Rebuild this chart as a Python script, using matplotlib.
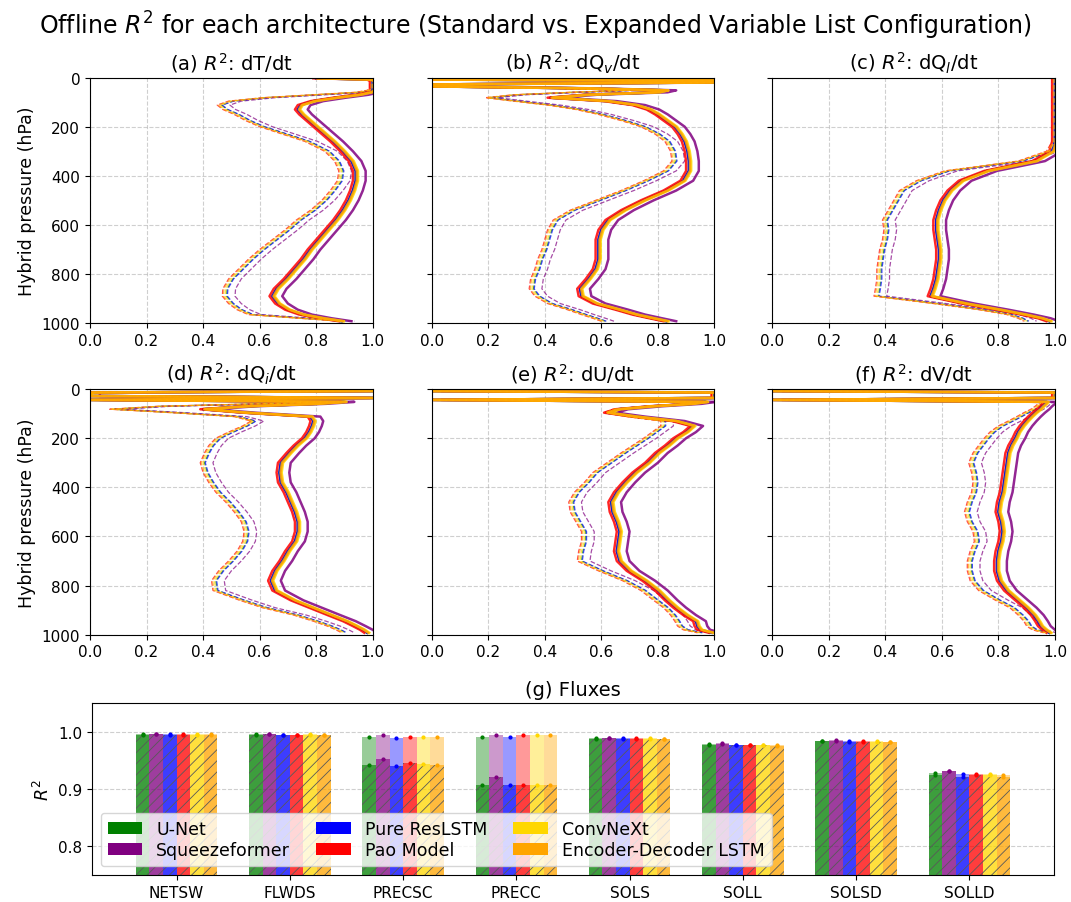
import numpy as np
import matplotlib.pyplot as plt
from matplotlib.patches import Patch

plt.rcParams['hatch.linewidth'] = 0.6
plt.rcParams['hatch.color'] = '0.35'

models = ['U-Net', 'Squeezeformer', 'Pure ResLSTM', 'Pao Model', 'ConvNeXt', 'Encoder-Decoder LSTM']
colors = ['green', 'purple', 'blue', 'red', 'gold', 'orange']

# hybrid pressure levels (hPa)
lev = [3, 8, 14, 20, 28, 36, 44, 52, 60, 70, 82, 96, 112, 130, 150, 175, 200, 230, 260, 300,
       340, 380, 420, 460, 500, 540, 580, 620, 660, 700, 740, 780, 820, 860, 890, 920, 945, 965, 980, 992]

# reference R2 profiles, expanded (solid) and standard (dashed)
dT_exp = [0.80, 0.99, 1.00, 1.00, 1.00, 1.00, 1.00, 1.00, 0.99, 0.95,
          0.87, 0.79, 0.745, 0.735, 0.75, 0.775, 0.80, 0.83, 0.86, 0.895,
          0.925, 0.94, 0.94, 0.93, 0.915, 0.895, 0.87, 0.84, 0.81, 0.78,
          0.755, 0.725, 0.695, 0.66, 0.645, 0.665, 0.70, 0.75, 0.82, 0.89]
dT_std = [0.80, 0.99, 1.00, 1.00, 1.00, 1.00, 1.00, 0.99, 0.95, 0.80,
          0.62, 0.50, 0.46, 0.48, 0.52, 0.56, 0.61, 0.69, 0.77, 0.84,
          0.875, 0.89, 0.885, 0.86, 0.83, 0.79, 0.74, 0.70, 0.655, 0.61,
          0.57, 0.535, 0.50, 0.48, 0.478, 0.50, 0.53, 0.57, 0.75, 0.90]
dQv_exp = [1.0, 0.0, 1.0, 1.0, 0.0, 0.0, 0.55, 0.83, 0.80, 0.55,
           0.42, 0.62, 0.72, 0.77, 0.80, 0.83, 0.86, 0.88, 0.895, 0.905,
           0.91, 0.91, 0.89, 0.83, 0.75, 0.68, 0.625, 0.60, 0.59, 0.59,
           0.59, 0.58, 0.555, 0.525, 0.53, 0.58, 0.66, 0.72, 0.78, 0.83]
dQv_std = [1.0, 0.0, 1.0, 1.0, 0.0, 0.0, 0.45, 0.70, 0.50, 0.30,
           0.20, 0.30, 0.42, 0.52, 0.60, 0.68, 0.75, 0.80, 0.835, 0.855,
           0.86, 0.83, 0.76, 0.68, 0.59, 0.50, 0.44, 0.42, 0.41, 0.40,
           0.385, 0.375, 0.36, 0.355, 0.375, 0.42, 0.49, 0.54, 0.58, 0.61]
dQl_exp = [1.0, 1.0, 1.0, 1.0, 1.0, 1.0, 1.0, 1.0, 1.0, 1.0,
           1.0, 1.0, 1.0, 1.0, 1.0, 1.0, 1.0, 1.0, 1.0, 0.99,
           0.93, 0.76, 0.67, 0.63, 0.605, 0.59, 0.58, 0.58, 0.585, 0.59,
           0.59, 0.585, 0.58, 0.57, 0.56, 0.68, 0.80, 0.89, 0.95, 0.98]
dQl_std = [1.0, 1.0, 1.0, 1.0, 1.0, 1.0, 1.0, 1.0, 1.0, 1.0,
           1.0, 1.0, 1.0, 1.0, 1.0, 1.0, 1.0, 1.0, 1.0, 0.98,
           0.88, 0.62, 0.52, 0.46, 0.44, 0.42, 0.40, 0.405, 0.40, 0.39,
           0.385, 0.38, 0.38, 0.375, 0.37, 0.58, 0.74, 0.84, 0.88, 0.90]
dQi_exp = [1.0, 1.0, 0.0, 0.0, 0.0, 1.0, 0.0, 0.90, 0.80, 0.55,
           0.40, 0.55, 0.78, 0.79, 0.785, 0.775, 0.76, 0.73, 0.705, 0.675,
           0.67, 0.675, 0.695, 0.71, 0.725, 0.735, 0.735, 0.725, 0.70, 0.68,
           0.655, 0.64, 0.655, 0.72, 0.785, 0.85, 0.905, 0.94, 0.965, 0.98]
dQi_std = [1.0, 1.0, 0.0, 0.0, 0.0, 1.0, 0.0, 0.88, 0.60, 0.25,
           0.08, 0.30, 0.52, 0.58, 0.55, 0.50, 0.455, 0.43, 0.415, 0.40,
           0.41, 0.43, 0.455, 0.49, 0.52, 0.545, 0.555, 0.55, 0.53, 0.50,
           0.465, 0.44, 0.445, 0.54, 0.62, 0.73, 0.80, 0.85, 0.88, 0.90]
dU_exp = [0.0, 0.0, 1.0, 1.0, 1.0, 1.0, 0.0, 0.97, 0.92, 0.78,
          0.66, 0.62, 0.72, 0.86, 0.925, 0.90, 0.865, 0.835, 0.80, 0.765,
          0.72, 0.685, 0.655, 0.635, 0.64, 0.655, 0.665, 0.66, 0.655, 0.665,
          0.70, 0.755, 0.80, 0.835, 0.865, 0.90, 0.935, 0.94, 0.95, 0.99]
dU_std = [0.0, 0.0, 1.0, 1.0, 1.0, 1.0, 0.0, 0.97, 0.90, 0.76,
          0.65, 0.62, 0.70, 0.82, 0.82, 0.79, 0.76, 0.72, 0.68, 0.63,
          0.58, 0.55, 0.515, 0.495, 0.50, 0.52, 0.54, 0.54, 0.53, 0.525,
          0.60, 0.685, 0.75, 0.795, 0.83, 0.855, 0.87, 0.88, 0.90, 0.95]
dV_exp = [0.0, 0.0, 1.0, 1.0, 1.0, 1.0, 0.0, 0.97, 0.965, 0.955,
          0.945, 0.93, 0.915, 0.90, 0.885, 0.87, 0.86, 0.845, 0.835, 0.83,
          0.825, 0.82, 0.815, 0.805, 0.80, 0.81, 0.815, 0.81, 0.80, 0.795,
          0.795, 0.805, 0.83, 0.87, 0.90, 0.925, 0.94, 0.95, 0.965, 0.98]
dV_std = [0.0, 0.0, 1.0, 1.0, 1.0, 1.0, 0.0, 0.96, 0.95, 0.94,
          0.925, 0.90, 0.875, 0.845, 0.81, 0.78, 0.76, 0.74, 0.72, 0.705,
          0.715, 0.72, 0.715, 0.70, 0.69, 0.70, 0.72, 0.725, 0.71, 0.70,
          0.70, 0.71, 0.74, 0.80, 0.85, 0.88, 0.90, 0.91, 0.93, 0.97]

# per-model shift from the reference profile
shift_exp = [0.0, 0.035, 0.0, -0.01, 0.008, 0.004]
shift_std = [0.005, 0.035, 0.008, -0.01, 0.0, -0.006]

panels = [
    ('(a) $R^2$: dT/dt', dT_exp, dT_std),
    ('(b) $R^2$: dQ$_v$/dt', dQv_exp, dQv_std),
    ('(c) $R^2$: dQ$_l$/dt', dQl_exp, dQl_std),
    ('(d) $R^2$: dQ$_i$/dt', dQi_exp, dQi_std),
    ('(e) $R^2$: dU/dt', dU_exp, dU_std),
    ('(f) $R^2$: dV/dt', dV_exp, dV_std),
]

# flux R2 (standard / expanded)
fluxes = ['NETSW', 'FLWDS', 'PRECSC', 'PRECC', 'SOLS', 'SOLL', 'SOLSD', 'SOLLD']
flux_std = [
    [0.995, 0.995, 0.943, 0.907, 0.988, 0.978, 0.984, 0.925],
    [0.996, 0.996, 0.952, 0.921, 0.990, 0.979, 0.985, 0.931],
    [0.995, 0.994, 0.940, 0.907, 0.988, 0.977, 0.983, 0.922],
    [0.995, 0.994, 0.945, 0.907, 0.988, 0.977, 0.983, 0.925],
    [0.995, 0.995, 0.944, 0.908, 0.988, 0.977, 0.983, 0.925],
    [0.995, 0.994, 0.942, 0.907, 0.987, 0.976, 0.982, 0.922],
]
flux_exp = [
    [0.996, 0.996, 0.992, 0.992, 0.989, 0.979, 0.985, 0.928],
    [0.996, 0.996, 0.994, 0.995, 0.990, 0.980, 0.986, 0.931],
    [0.996, 0.995, 0.989, 0.992, 0.989, 0.978, 0.984, 0.926],
    [0.996, 0.995, 0.992, 0.994, 0.989, 0.978, 0.984, 0.927],
    [0.996, 0.996, 0.992, 0.994, 0.989, 0.978, 0.984, 0.926],
    [0.996, 0.995, 0.992, 0.994, 0.988, 0.977, 0.983, 0.925],
]
flux_err = [0.0008, 0.0008, 0.001, 0.001, 0.0008, 0.0008, 0.0008, 0.0012]

fig = plt.figure(figsize=(10.71, 9.03), dpi=100)
fig.suptitle('Offline $R^2$ for each architecture (Standard vs. Expanded Variable List Configuration)',
             fontsize=17, y=0.989)

lefts = [0.084, 0.403, 0.721]
bottoms = [0.641, 0.296]
lev_arr = np.array(lev)
for k, (title, prof_exp, prof_std) in enumerate(panels):
    ax = fig.add_axes([lefts[k % 3], bottoms[k // 3], 0.264, 0.272])
    for m in range(len(models)):
        ax.plot(np.array(prof_exp) + shift_exp[m], lev_arr, color=colors[m], lw=1.8, alpha=0.85)
        ax.plot(np.array(prof_std) + shift_std[m], lev_arr, color=colors[m], lw=0.9,
                ls='--', alpha=0.7)
    ax.set_xlim(0, 1)
    ax.set_ylim(1000, 0)
    ax.set_xticks(np.arange(0, 1.01, 0.2))
    ax.set_yticks(np.arange(0, 1001, 200))
    ax.grid(True, ls='--', alpha=0.6)
    ax.tick_params(labelsize=11)
    ax.set_title(title, fontsize=14)
    if k % 3 == 0:
        ax.set_ylabel('Hybrid pressure (hPa)', fontsize=12.5)
    else:
        ax.set_yticklabels([])

# (g) fluxes
axb = fig.add_axes([0.086, 0.030, 0.898, 0.190])
x = np.arange(len(fluxes))
w = 0.12
for m in range(len(models)):
    xm = x + (m - 2.5) * w
    axb.bar(xm, flux_exp[m], w, color=colors[m], alpha=0.4, lw=0)
    axb.bar(xm, flux_std[m], w, color=colors[m], alpha=0.6, lw=0, hatch='///')
    axb.errorbar(xm, flux_exp[m], yerr=flux_err, fmt='o', ms=2, color=colors[m], lw=0.8)
    axb.errorbar(xm, flux_std[m], yerr=flux_err, fmt='o', ms=2, color=colors[m], lw=0.8)
axb.set_ylim(0.75, 1.05)
axb.set_yticks([0.8, 0.9, 1.0])
axb.set_xticks(x)
axb.set_xticklabels(fluxes)
axb.tick_params(labelsize=11)
axb.set_ylabel('$R^2$', fontsize=12.5)
axb.set_title('(g) Fluxes', fontsize=14)
axb.grid(True, axis='y', ls='--', alpha=0.6)
axb.set_axisbelow(True)
handles = [Patch(facecolor=c, label=n) for c, n in zip(colors, models)]
axb.legend(handles=handles, loc='lower left', ncol=3, fontsize=12.5,
           handlelength=2.0, columnspacing=1.5, labelspacing=0.2)

fig.savefig('out.png', dpi=100)
